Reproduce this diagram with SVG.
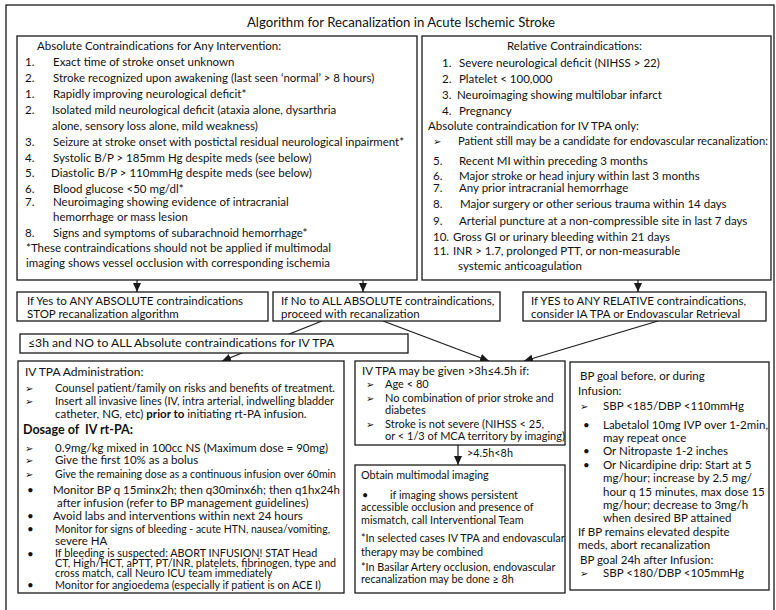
<svg xmlns="http://www.w3.org/2000/svg" width="776" height="610" viewBox="0 0 776 610">
  <defs>
    <style>
      .t { font-family: Lato, "Liberation Sans", sans-serif; font-size: 11.5px; fill: #111; }
      .ttl { font-size: 13.2px; }
      .lg { font-size: 12.2px; }
      .dc { font-size: 11.5px; }
      .md { font-size: 11px; }
      .sm { font-size: 10.8px; }
      .xs { font-size: 10.8px; }
      .b { font-weight: bold; }
      .ar { font-family: "DejaVu Sans", sans-serif; font-size: 10px; fill: #111; }
      .box { fill: #fff; stroke: #1a1a1a; stroke-width: 1.3; }
      .frame { fill: none; stroke: #1a1a1a; stroke-width: 1.3; }
      .ln { fill: none; stroke: #1a1a1a; stroke-width: 1.2; }
    </style>
    <marker id="head" markerUnits="userSpaceOnUse" markerWidth="9" markerHeight="8" refX="9" refY="4" orient="auto">
      <path d="M0,0 L9,4 L0,8 z" fill="#1a1a1a"/>
    </marker>
  </defs>

  <rect width="776" height="610" fill="#fff"/>

  <!-- outer frame and title -->
  <rect class="frame" x="6" y="5" width="768" height="640"/>
  <text class="t ttl" x="401" y="27" text-anchor="middle">Algorithm for Recanalization in Acute Ischemic Stroke</text>

  <!-- connectors -->
  <g id="connectors">
    <line class="ln" x1="137" y1="280" x2="137" y2="292" marker-end="url(#head)"/>
    <line class="ln" x1="363" y1="280" x2="363" y2="292" marker-end="url(#head)"/>
    <line class="ln" x1="638" y1="280" x2="638" y2="292" marker-end="url(#head)"/>
    <line class="ln" x1="322" y1="321" x2="222" y2="361" marker-end="url(#head)"/>
    <line class="ln" x1="383" y1="321" x2="489" y2="361" marker-end="url(#head)"/>
    <line class="ln" x1="658" y1="321" x2="524" y2="361" marker-end="url(#head)"/>
    <line class="ln" x1="458" y1="445" x2="458" y2="465" marker-end="url(#head)"/>
    <text class="t sm" x="467" y="457">&gt;4.5h&lt;8h</text>
  </g>

  <!-- absolute contraindications -->
  <g id="absolute">
    <rect class="box" x="17" y="36" width="400" height="244"/>
    <text class="t" x="37" y="50">Absolute Contraindications for Any Intervention:</text>
    <text class="t" x="25" y="66">1.</text><text class="t" x="53" y="66">Exact time of stroke onset unknown</text>
    <text class="t" x="25" y="82">2.</text><text class="t" x="53" y="82">Stroke recognized upon awakening (last seen ‘normal’ &gt; 8 hours)</text>
    <text class="t" x="25" y="98">1.</text><text class="t" x="53" y="98">Rapidly improving neurological deficit*</text>
    <text class="t" x="25" y="114">2.</text><text class="t" x="52" y="114">Isolated mild neurological deficit (ataxia alone, dysarthria</text>
    <text class="t" x="52" y="130">alone, sensory loss alone, mild weakness)</text>
    <text class="t" x="25" y="146">3.</text><text class="t" x="53" y="146" textLength="351" lengthAdjust="spacingAndGlyphs">Seizure at stroke onset with postictal residual neurological inpairment*</text>
    <text class="t" x="25" y="162">4.</text><text class="t" x="53" y="162">Systolic B/P &gt; 185mm Hg despite meds (see below)</text>
    <text class="t" x="25" y="177">5.</text><text class="t" x="51" y="177">Diastolic B/P &gt; 110mmHg despite meds (see below)</text>
    <text class="t" x="25" y="193">6.</text><text class="t" x="53" y="193">Blood glucose &lt;50 mg/dl*</text>
    <text class="t" x="25" y="206">7.</text><text class="t" x="53" y="206">Neuroimaging showing evidence of intracranial</text>
    <text class="t" x="53" y="221">hemorrhage or mass lesion</text>
    <text class="t" x="25" y="237">8.</text><text class="t" x="53" y="237">Signs and symptoms of subarachnoid hemorrhage*</text>
    <text class="t" x="26" y="252">*These contraindications should not be applied if multimodal</text>
    <text class="t" x="26" y="267">imaging shows vessel occlusion with corresponding ischemia</text>
  </g>

  <!-- relative contraindications -->
  <g id="relative">
    <rect class="box" x="422" y="36" width="349" height="244"/>
    <text class="t" x="507" y="50">Relative Contraindications:</text>
    <text class="t" x="442" y="67">1.</text><text class="t" x="459" y="67">Severe neurological deficit (NIHSS &gt; 22)</text>
    <text class="t" x="442" y="83">2.</text><text class="t" x="459" y="83">Platelet &lt; 100,000</text>
    <text class="t" x="442" y="99">3.</text><text class="t" x="457" y="99">Neuroimaging showing multilobar infarct</text>
    <text class="t" x="442" y="115">4.</text><text class="t" x="459" y="115">Pregnancy</text>
    <text class="t" x="428" y="130">Absolute contraindication for IV TPA only:</text>
    <text class="ar" x="433" y="145">➢</text><text class="t" x="458" y="145" textLength="310" lengthAdjust="spacingAndGlyphs">Patient still may be a candidate for endovascular recanalization:</text>
    <text class="t" x="433" y="165">5.</text><text class="t" x="459" y="165">Recent MI within preceding 3 months</text>
    <text class="t" x="433" y="180">6.</text><text class="t" x="459" y="180">Major stroke or head injury within last 3 months</text>
    <text class="t" x="433" y="192">7.</text><text class="t" x="459" y="192">Any prior intracranial hemorrhage</text>
    <text class="t" x="433" y="208">8.</text><text class="t" x="460" y="208">Major surgery or other serious trauma within 14 days</text>
    <text class="t" x="433" y="225">9.</text><text class="t" x="459" y="225">Arterial puncture at a non-compressible site in last 7 days</text>
    <text class="t" x="433" y="241">10.</text><text class="t" x="453" y="241">Gross GI or urinary bleeding within 21 days</text>
    <text class="t" x="433" y="255">11.</text><text class="t" x="453" y="255">INR &gt; 1.7, prolonged PTT, or non-measurable</text>
    <text class="t" x="458" y="270">systemic anticoagulation</text>
  </g>

  <!-- decisions -->
  <g id="stop">
    <rect class="box" x="17" y="292" width="251" height="29"/>
    <text class="t dc" x="27" y="305">If Yes to ANY ABSOLUTE contraindications</text>
    <text class="t dc" x="27" y="318">STOP recanalization algorithm</text>
  </g>
  <g id="proceed">
    <rect class="box" x="273" y="292" width="227" height="29"/>
    <text class="t dc" x="281" y="305">If No to ALL ABSOLUTE contraindications,</text>
    <text class="t dc" x="281" y="318">proceed with recanalization</text>
  </g>
  <g id="consider">
    <rect class="box" x="523" y="292" width="243" height="29"/>
    <text class="t dc" x="531" y="305">If YES to ANY RELATIVE contraindications,</text>
    <text class="t dc" x="531" y="318">consider IA TPA or Endovascular Retrieval</text>
  </g>

  <g id="within3h">
    <rect class="box" x="20" y="334" width="388" height="19"/>
    <text class="t lg" x="28" y="347">≤3h and NO to ALL Absolute contraindications for IV TPA</text>
  </g>

  <!-- IV TPA administration -->
  <g id="administration">
    <rect class="box" x="18" y="361" width="326" height="232"/>
    <text class="t" x="25" y="376" style="font-size:12px">IV TPA Administration:</text>
    <text class="ar" x="25" y="392">➢</text><text class="t" x="55" y="392" textLength="280" lengthAdjust="spacingAndGlyphs">Counsel patient/family on risks and benefits of treatment.</text>
    <text class="ar" x="25" y="405">➢</text><text class="t" x="55" y="405" textLength="279" lengthAdjust="spacingAndGlyphs">Insert all invasive lines (IV, intra arterial, indwelling bladder</text>
    <text class="t" x="55" y="418">catheter, NG, etc) <tspan class="b">prior to</tspan> initiating rt-PA infusion.</text>
    <text class="t b" x="23" y="434" style="font-size:12.5px">Dosage of&#160; IV rt-PA:</text>
    <text class="ar" x="25" y="452">➢</text><text class="t" x="55" y="452">0.9mg/kg mixed in 100cc NS (Maximum dose = 90mg)</text>
    <text class="ar" x="25" y="464">➢</text><text class="t" x="55" y="464">Give the first 10% as a bolus</text>
    <text class="ar" x="25" y="478">➢</text><text class="t" x="55" y="478" textLength="281" lengthAdjust="spacingAndGlyphs">Give the remaining dose as a continuous infusion over 60min</text>
    <text class="t" x="27" y="494">•</text><text class="t" x="53" y="494">Monitor BP q 15minx2h; then q30minx6h; then q1hx24h</text>
    <text class="t" x="57" y="507">after infusion (refer to BP management guidelines)</text>
    <text class="t" x="27" y="520">•</text><text class="t" x="53" y="520">Avoid labs and interventions within next 24 hours</text>
    <text class="t" x="27" y="533">•</text><text class="t" x="55" y="533" textLength="275" lengthAdjust="spacingAndGlyphs">Monitor for signs of bleeding - acute HTN, nausea/vomiting,</text>
    <text class="t" x="55" y="545">severe HA</text>
    <text class="t" x="27" y="558">•</text><text class="t xs" x="55" y="557">If bleeding is suspected: ABORT INFUSION! STAT Head</text>
    <text class="t xs" x="55" y="567">CT, High/HCT, aPTT, PT/INR, platelets, fibrinogen, type and</text>
    <text class="t xs" x="55" y="577">cross match, call Neuro ICU team immediately</text>
    <text class="t" x="27" y="589">•</text><text class="t" x="55" y="589" textLength="266" lengthAdjust="spacingAndGlyphs">Monitor for angioedema (especially if patient is on ACE I)</text>
  </g>

  <!-- 3 to 4.5 hour window -->
  <g id="window">
    <rect class="box" x="355" y="361" width="210" height="84"/>
    <text class="t" x="362" y="375">IV TPA may be given &gt;3h≤4.5h if:</text>
    <text class="ar" x="366" y="388">➢</text><text class="t md" x="385" y="388">Age &lt; 80</text>
    <text class="ar" x="366" y="402">➢</text><text class="t md" x="385" y="402">No combination of prior stroke and</text>
    <text class="t md" x="385" y="414">diabetes</text>
    <text class="ar" x="366" y="428">➢</text><text class="t md" x="385" y="428">Stroke is not severe (NIHSS &lt; 25,</text>
    <text class="t md" x="385" y="440">or &lt; 1/3 of MCA territory by imaging)</text>
  </g>

  <!-- multimodal imaging -->
  <g id="imaging">
    <rect class="box" x="355" y="465" width="210" height="128"/>
    <text class="t sm" x="361" y="479">Obtain multimodal imaging</text>
    <text class="t sm" x="362" y="499">•</text><text class="t sm" x="390" y="499">if imaging shows persistent</text>
    <text class="t sm" x="361" y="511">accessible occlusion and presence of</text>
    <text class="t sm" x="361" y="524">mismatch, call Interventional Team</text>
    <text class="t sm" x="361" y="542">*In selected cases IV TPA and endovascular</text>
    <text class="t sm" x="361" y="556">therapy may be combined</text>
    <text class="t sm" x="361" y="571">*In Basilar Artery occlusion, endovascular</text>
    <text class="t sm" x="361" y="583">recanalization may be done ≥ 8h</text>
  </g>

  <!-- blood pressure goals -->
  <g id="bp">
    <rect class="box" x="570" y="362" width="199" height="228"/>
    <text class="t" x="580" y="380">BP goal before, or during</text>
    <text class="t" x="578" y="395">Infusion:</text>
    <text class="ar" x="580" y="410">➢</text><text class="t" x="603" y="410">SBP &lt;185/DBP &lt;110mmHg</text>
    <text class="t" x="583" y="429">•</text><text class="t" x="603" y="429">Labetalol 10mg IVP over 1-2min,</text>
    <text class="t" x="603" y="442">may repeat once</text>
    <text class="t" x="583" y="455">•</text><text class="t" x="603" y="455">Or Nitropaste 1-2 inches</text>
    <text class="t" x="583" y="469">•</text><text class="t" x="603" y="469">Or Nicardipine drip: Start at 5</text>
    <text class="t" x="603" y="482">mg/hour; increase by 2.5 mg/</text>
    <text class="t" x="603" y="496">hour q 15 minutes, max dose 15</text>
    <text class="t" x="603" y="509">mg/hour; decrease to 3mg/h</text>
    <text class="t" x="603" y="522">when desired BP attained</text>
    <text class="t" x="578" y="536">If BP remains elevated despite</text>
    <text class="t" x="578" y="549">meds, abort recanalization</text>
    <text class="t" x="580" y="564">BP goal 24h after Infusion:</text>
    <text class="ar" x="580" y="577">➢</text><text class="t" x="603" y="577">SBP &lt;180/DBP &lt;105mmHg</text>
  </g>
</svg>
